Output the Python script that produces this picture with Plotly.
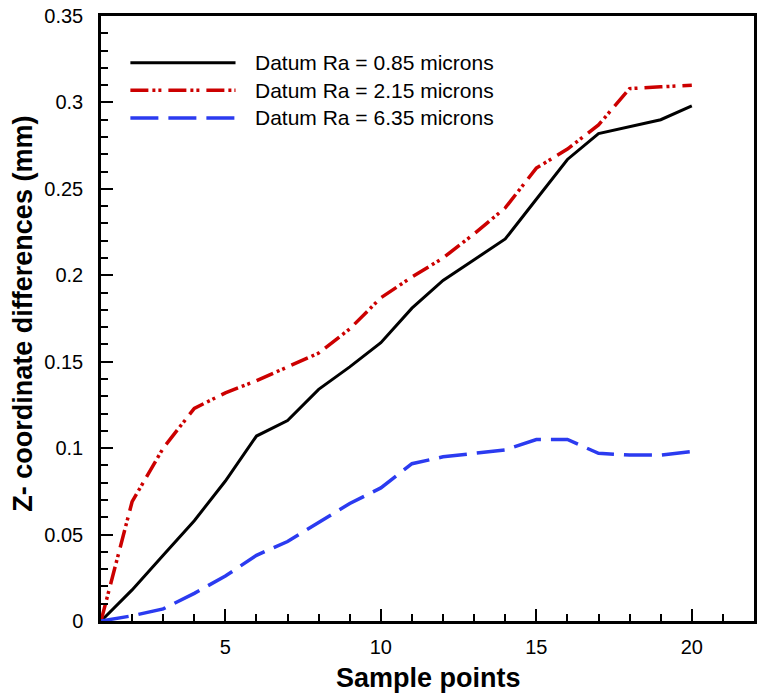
import plotly.graph_objects as go

sample_points = list(range(1, 21))
ra_085 = [0, 0.018, 0.038, 0.058, 0.081, 0.107, 0.116, 0.134, 0.147, 0.161,
          0.181, 0.197, 0.209, 0.221, 0.244, 0.267, 0.282, 0.286, 0.290, 0.298]
ra_215 = [0, 0.069, 0.100, 0.123, 0.132, 0.139, 0.147, 0.155, 0.169, 0.187,
          0.199, 0.210, 0.224, 0.239, 0.262, 0.273, 0.287, 0.308, 0.309, 0.310]
ra_635 = [0, 0.003, 0.007, 0.016, 0.026, 0.038, 0.046, 0.057, 0.068, 0.077,
          0.091, 0.095, 0.097, 0.099, 0.105, 0.105, 0.097, 0.096, 0.096, 0.098]
series_names = ["Datum Ra = 0.85 microns", "Datum Ra = 2.15 microns", "Datum Ra = 6.35 microns"]
y_ticks = [0, 0.05, 0.1, 0.15, 0.2, 0.25, 0.3, 0.35]
y_tick_labels = ["0", "0.05", "0.1", "0.15", "0.2", "0.25", "0.3", "0.35"]
x_ticks = [5, 10, 15, 20]
x_title = "Sample points"
y_title = "Z- coordinate differences (mm)"

styles = [
    dict(color="black", width=3, dash="solid"),
    dict(color="#cc0000", width=3.5, dash="18px,4px,3px,3px,3px,7px"),
    dict(color="#2b3bf0", width=3.5, dash="28px,10px"),
]

FONT = "Liberation Sans, Arial, sans-serif"

fig = go.Figure()
for name, ys, st in zip(series_names, [ra_085, ra_215, ra_635], styles):
    fig.add_trace(go.Scatter(x=sample_points, y=ys, mode="lines", name=name,
                             line=st, showlegend=False))

# Manual legend (long sample lines as in the original)
legend_y = [0.323, 0.307, 0.291]
for name, st, ly in zip(series_names, styles, legend_y):
    fig.add_shape(type="line", xref="paper", yref="y", x0=0.045, x1=0.206,
                  y0=ly, y1=ly, line=st)
    fig.add_annotation(xref="paper", yref="y", x=0.233, y=ly, text=name,
                       showarrow=False, xanchor="left", yanchor="middle",
                       font=dict(family=FONT, size=21, color="black"))

# Axis titles
fig.add_annotation(xref="paper", yref="paper", x=0.502, y=0, yshift=-57,
                   text="<b>" + x_title + "</b>", showarrow=False,
                   xanchor="center", yanchor="middle",
                   font=dict(family=FONT, size=27, color="black"))
fig.add_annotation(xref="paper", yref="paper", x=0, xshift=-78, y=0.508,
                   text="<b>" + y_title + "</b>", showarrow=False, textangle=-90,
                   xanchor="center", yanchor="middle",
                   font=dict(family=FONT, size=27, color="black"))

axis_common = dict(showline=True, linecolor="black", linewidth=2.5, mirror=True,
                   ticks="inside", tickcolor="black", tickwidth=2, ticklen=12,
                   showgrid=False, zeroline=False, automargin=False,
                   ticklabeloverflow="allow",
                   tickfont=dict(family=FONT, size=20, color="black"))

fig.update_xaxes(range=[1, 22], tickvals=x_ticks, ticklabelstandoff=6,
                 minor=dict(ticks="inside", ticklen=7, tickwidth=1.5,
                            tickcolor="black", dtick=1, tick0=1),
                 **axis_common)
fig.update_yaxes(range=[0, 0.35], tickvals=y_ticks, ticktext=y_tick_labels,
                 ticklabelstandoff=11,
                 minor=dict(ticks="inside", ticklen=7, tickwidth=1.5,
                            tickcolor="black", dtick=0.01, tick0=0),
                 **axis_common)

fig.update_layout(width=759, height=698,
                  margin=dict(l=101, r=5, t=16, b=77),
                  paper_bgcolor="white", plot_bgcolor="white",
                  showlegend=False)

# Remove the default 8px page margin so the figure fills the window exactly.
fig.write_html("out.html", config={"displayModeBar": False},
               post_script="document.body.style.margin='0';")
